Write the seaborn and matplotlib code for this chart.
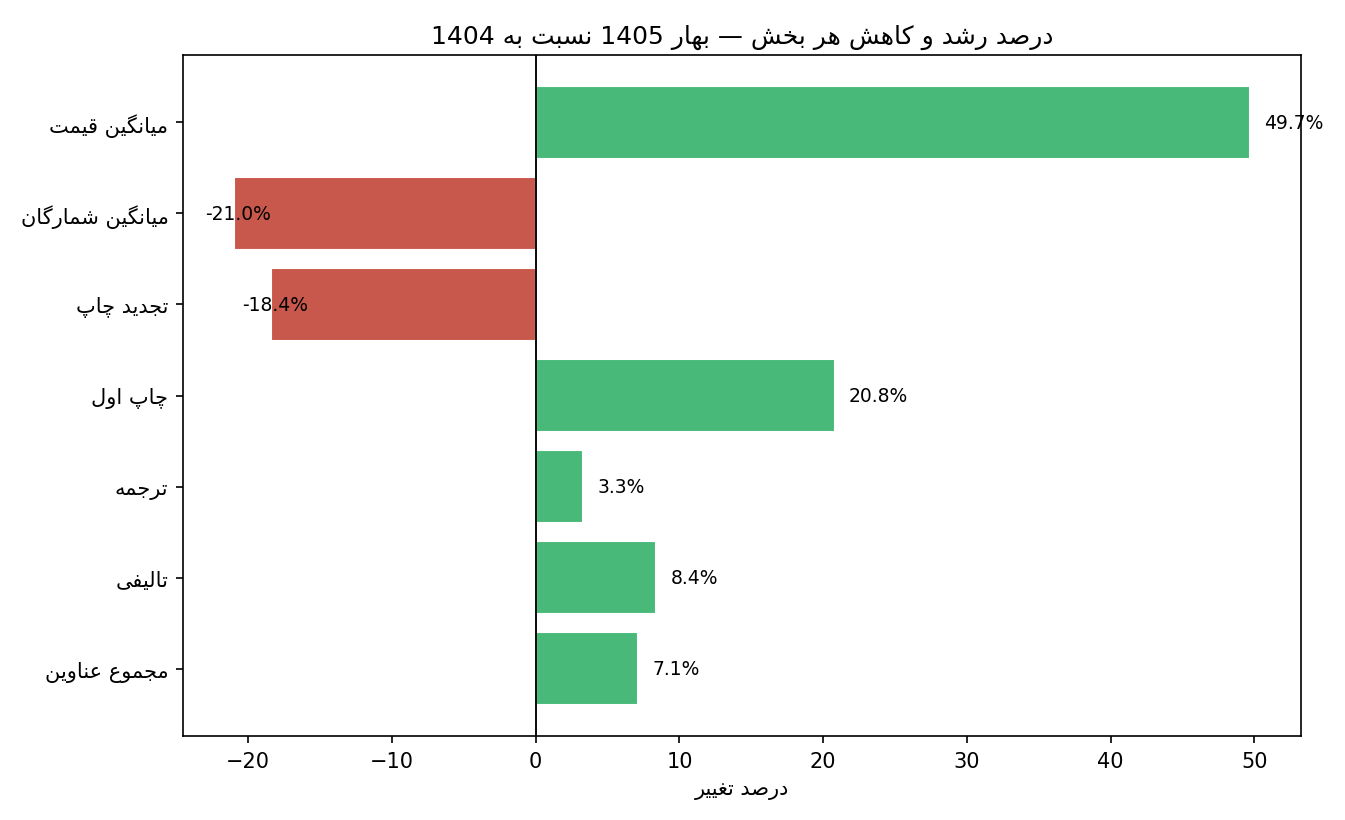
import matplotlib
matplotlib.use("Agg")
import matplotlib.pyplot as plt
import seaborn as sns
import pandas as pd

# data (top to bottom as shown)
categories = ["میانگین قیمت", "میانگین شمارگان", "تجدید چاپ", "چاپ اول",
              "ترجمه", "تالیفی", "مجموع عناوین"]
changes = [49.7, -21.0, -18.4, 20.8, 3.3, 8.4, 7.1]
title = "درصد رشد و کاهش هر بخش — بهار 1405 نسبت به 1404"
xlabel = "درصد تغییر"

GREEN = "#49b97a"
RED = "#c9584c"

# minimal arabic/persian shaping (no reshaper/bidi libs available)
# char -> (isolated, final, initial, medial); right-joining letters only have 2 forms
FORMS = {
    "ا": (0xFE8D, 0xFE8E), "ب": (0xFE8F, 0xFE90, 0xFE91, 0xFE92),
    "ت": (0xFE95, 0xFE96, 0xFE97, 0xFE98), "ث": (0xFE99, 0xFE9A, 0xFE9B, 0xFE9C),
    "ج": (0xFE9D, 0xFE9E, 0xFE9F, 0xFEA0), "ح": (0xFEA1, 0xFEA2, 0xFEA3, 0xFEA4),
    "خ": (0xFEA5, 0xFEA6, 0xFEA7, 0xFEA8), "د": (0xFEA9, 0xFEAA),
    "ذ": (0xFEAB, 0xFEAC), "ر": (0xFEAD, 0xFEAE), "ز": (0xFEAF, 0xFEB0),
    "س": (0xFEB1, 0xFEB2, 0xFEB3, 0xFEB4), "ش": (0xFEB5, 0xFEB6, 0xFEB7, 0xFEB8),
    "ص": (0xFEB9, 0xFEBA, 0xFEBB, 0xFEBC), "ض": (0xFEBD, 0xFEBE, 0xFEBF, 0xFEC0),
    "ط": (0xFEC1, 0xFEC2, 0xFEC3, 0xFEC4), "ظ": (0xFEC5, 0xFEC6, 0xFEC7, 0xFEC8),
    "ع": (0xFEC9, 0xFECA, 0xFECB, 0xFECC), "غ": (0xFECD, 0xFECE, 0xFECF, 0xFED0),
    "ف": (0xFED1, 0xFED2, 0xFED3, 0xFED4), "ق": (0xFED5, 0xFED6, 0xFED7, 0xFED8),
    "ل": (0xFEDD, 0xFEDE, 0xFEDF, 0xFEE0), "م": (0xFEE1, 0xFEE2, 0xFEE3, 0xFEE4),
    "ن": (0xFEE5, 0xFEE6, 0xFEE7, 0xFEE8), "ه": (0xFEE9, 0xFEEA, 0xFEEB, 0xFEEC),
    "و": (0xFEED, 0xFEEE), "ی": (0xFEEF, 0xFEF0, 0xFEF3, 0xFEF4),
    "پ": (0xFB56, 0xFB57, 0xFB58, 0xFB59), "چ": (0xFB7A, 0xFB7B, 0xFB7C, 0xFB7D),
    "ژ": (0xFB8A, 0xFB8B), "ک": (0xFB8E, 0xFB8F, 0xFB90, 0xFB91),
    "گ": (0xFB92, 0xFB93, 0xFB94, 0xFB95),
}


def shape(text):
    out = []
    for i, ch in enumerate(text):
        if ch not in FORMS:
            out.append(ch)
            continue
        f = FORMS[ch]
        prev = text[i - 1] if i > 0 else ""
        nxt = text[i + 1] if i + 1 < len(text) else ""
        join_prev = prev in FORMS and len(FORMS[prev]) == 4
        join_next = nxt in FORMS and len(f) == 4
        if join_prev and join_next:
            code = f[3]
        elif join_prev:
            code = f[1]
        elif join_next:
            code = f[2]
        else:
            code = f[0]
        out.append(chr(code))
    # visual order: reverse, then put digit runs back in reading order
    rev = "".join(out)[::-1]
    res, run = [], []
    for ch in rev:
        if ch.isdigit():
            run.append(ch)
        else:
            res.extend(reversed(run))
            run = []
            res.append(ch)
    res.extend(reversed(run))
    return "".join(res)


df = pd.DataFrame({"category": [shape(c) for c in categories], "change": changes})
df["sign"] = ["pos" if v >= 0 else "neg" for v in changes]

sns.set_style("white")
plt.rcParams["font.family"] = ["DejaVu Sans"]
for k in ["text.color", "axes.labelcolor", "xtick.color", "ytick.color"]:
    plt.rcParams[k] = "black"

fig, ax = plt.subplots(figsize=(8.973, 5.473), dpi=150)
fig.subplots_adjust(left=0.136, right=0.9666, top=0.9318, bottom=0.1023)

sns.barplot(data=df, x="change", y="category", hue="sign",
            palette={"pos": GREEN, "neg": RED}, orient="h",
            width=0.8, dodge=False, legend=False, saturation=1, ax=ax)

ax.axvline(0, color="black", linewidth=0.9)

for i, v in enumerate(changes):
    xpos = v + 1 if v >= 0 else v - 2
    ax.text(xpos, i, f"{v}%", va="center", ha="left", fontsize=9, color="black")

ax.margins(x=0.05)
n = len(categories)
ax.set_ylim(n - 0.6 + 0.34, -0.4 - 0.34)
ax.set_title(shape(title), fontsize=12)
ax.set_xlabel(shape(xlabel), fontsize=10)
ax.set_ylabel("")
ax.tick_params(axis="both", length=3.5, width=0.8, labelsize=10, left=True, bottom=True)
for s in ax.spines.values():
    s.set_color("black")
    s.set_linewidth(0.8)

fig.savefig("out.png", dpi=150)
